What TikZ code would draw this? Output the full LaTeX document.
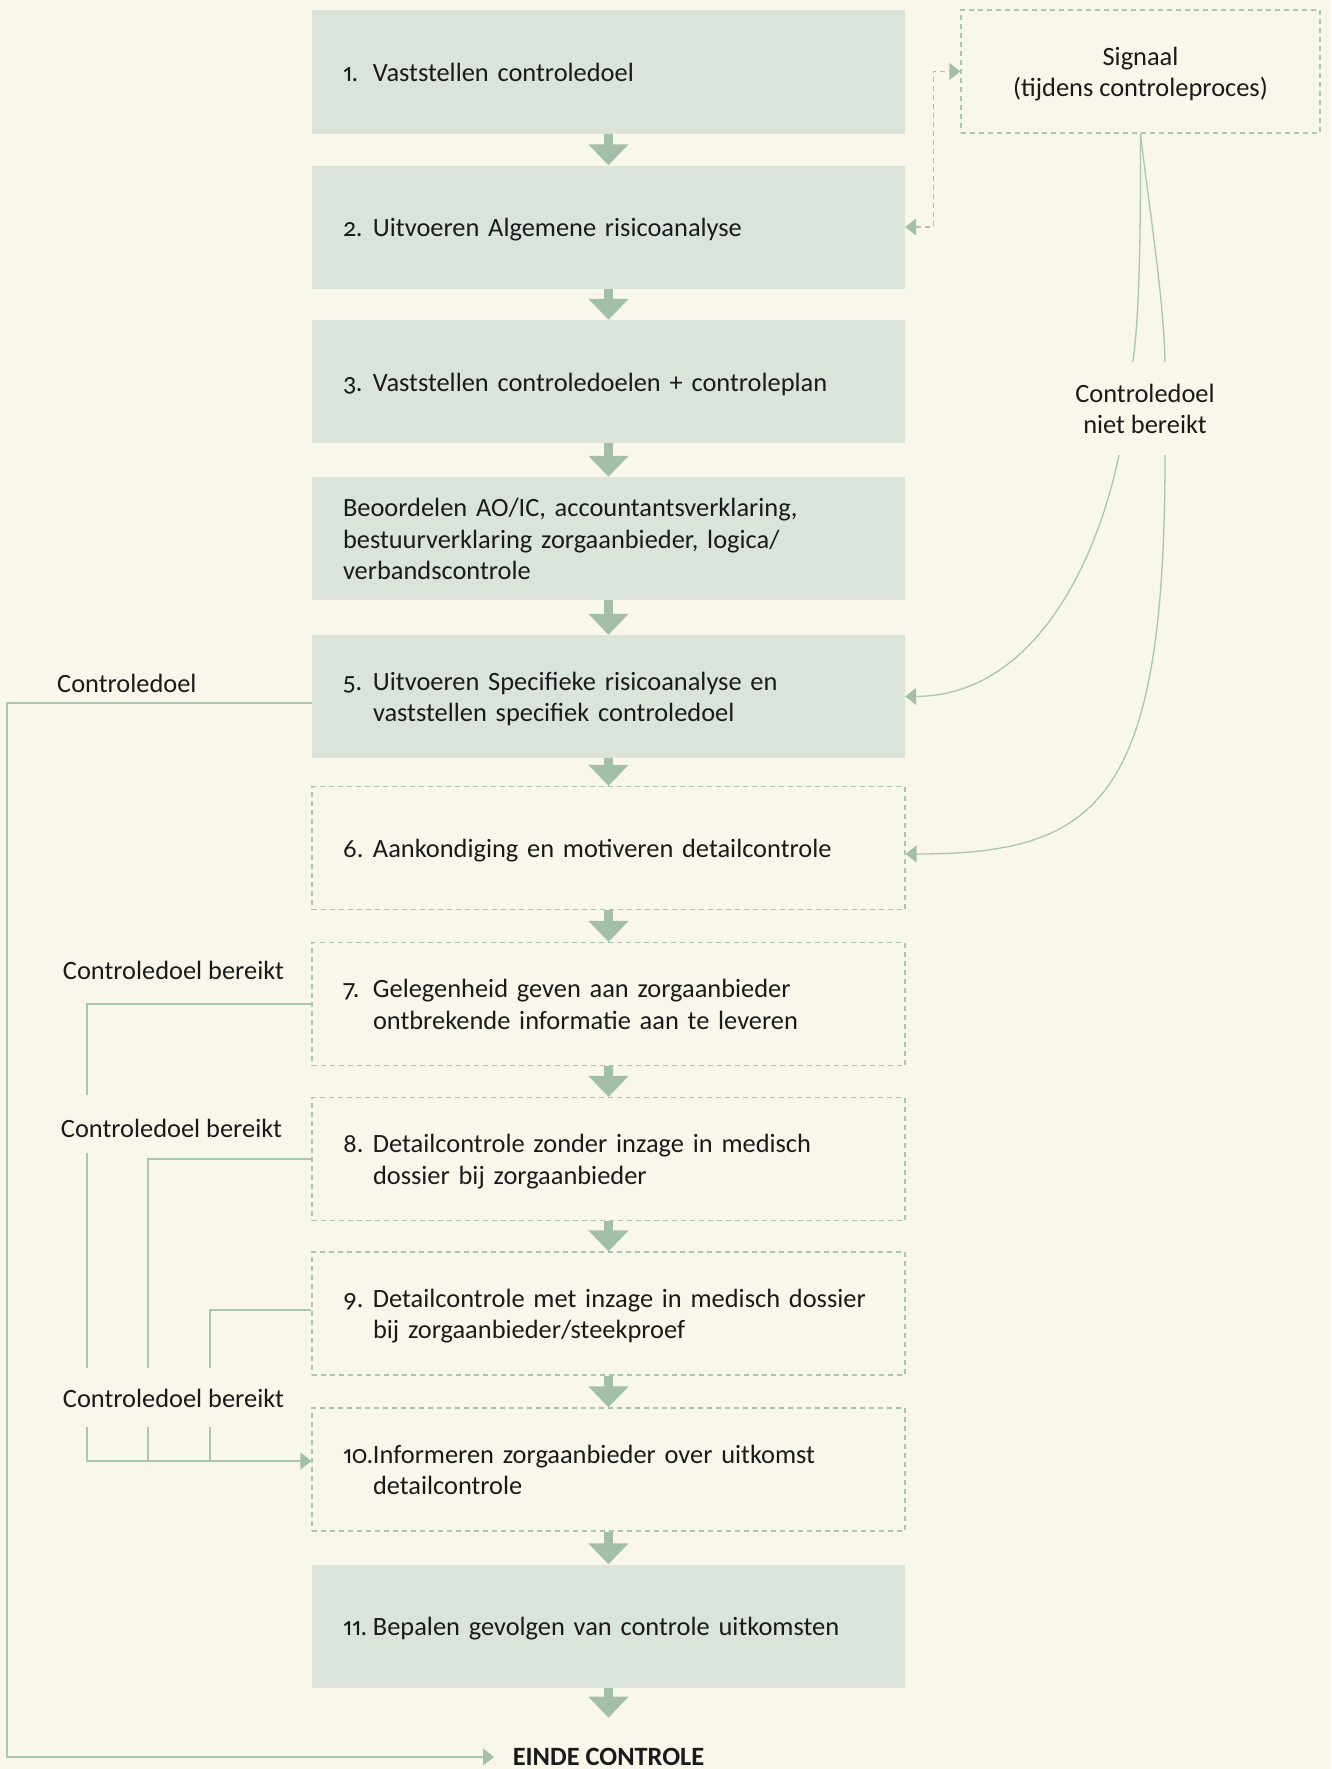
\documentclass[tikz,border=0pt]{standalone}
\usepackage{fontspec}
\setmainfont{Carlito}[Numbers={OldStyle,Proportional}]
\usetikzlibrary{arrows.meta}
\definecolor{bg}{HTML}{F9F7EC}
\definecolor{boxfill}{HTML}{DAE4DB}
\definecolor{arrowgreen}{HTML}{A3BFA9}
\definecolor{linegreen}{HTML}{A9C6AF}
\definecolor{ink}{HTML}{1A1A1A}
\newcommand{\nr}[1]{\makebox[30pt][l]{#1}}
\newcommand{\ind}{\hspace*{30pt}}
\newcommand{\mystrut}{\rule[-6pt]{0pt}{31pt}}
\newcommand{\tline}[1]{\mbox{\mystrut#1}}
\begin{document}
\begin{tikzpicture}[x=1pt,y=-1pt,
  every node/.style={font=\fontsize{26.4}{31.6}\selectfont, text=ink},
  solidbox/.style={rectangle, fill=boxfill, minimum width=593pt, minimum height=123pt,
     text width=531pt, inner xsep=31pt, inner ysep=0pt, align=left},
  dashbox/.style={solidbox, fill=none, draw=linegreen, line width=1.3pt, dash pattern=on 5pt off 4pt},
  sigbox/.style={rectangle, draw=linegreen, line width=1.3pt, dash pattern=on 5pt off 4pt,
     minimum width=359pt, minimum height=123pt, inner sep=0pt, align=center},
  flowarrow/.style={draw=arrowgreen, line width=8.7pt, -{Triangle[length=21pt,width=39pt,color=arrowgreen]}},
  conn/.style={draw=linegreen, line width=1.3pt},
  dconn/.style={conn, dash pattern=on 5pt off 4pt},
  endtip/.style={-{Triangle[length=11pt,width=17pt,color=arrowgreen]}},
  bothtips/.style={{Triangle[length=11pt,width=17pt,color=arrowgreen]}-{Triangle[length=11pt,width=17pt,color=arrowgreen]}},
  lbl/.style={inner sep=0pt, align=center}
]
\useasboundingbox (0,0) rectangle (1331,1769);
\fill[bg] (0,0) rectangle (1331,1769);

% main column
\node[solidbox] (b1) at (608.5,72) {\tline{\nr{1.}Vaststellen controledoel}};
\node[solidbox] (b2) at (608.5,227) {\tline{\nr{2.}Uitvoeren Algemene risicoanalyse}};
\node[solidbox] (b3) at (608.5,381.5) {\tline{\nr{3.}Vaststellen controledoelen + controleplan}};
\node[solidbox] (b4) at (608.5,538.5) {\tline{Beoordelen AO/IC, accountantsverklaring,}\\\tline{bestuurverklaring zorgaanbieder, logica/}\\\tline{verbandscontrole}};
\node[solidbox] (b5) at (608.5,696.5) {\tline{\nr{5.}Uitvoeren Specifieke risicoanalyse en}\\\tline{\ind vaststellen specifiek controledoel}};
\node[dashbox] (b6) at (608.5,848) {\tline{\nr{6.}Aankondiging en motiveren detailcontrole}};
\node[dashbox] (b7) at (608.5,1004) {\tline{\nr{7.}Gelegenheid geven aan zorgaanbieder}\\\tline{\ind ontbrekende informatie aan te leveren}};
\node[dashbox] (b8) at (608.5,1159) {\tline{\nr{8.}Detailcontrole zonder inzage in medisch}\\\tline{\ind dossier bij zorgaanbieder}};
\node[dashbox] (b9) at (608.5,1313.5) {\tline{\nr{9.}Detailcontrole met inzage in medisch dossier}\\\tline{\ind bij zorgaanbieder/steekproef}};
\node[dashbox] (b10) at (608.5,1469.5) {\tline{\nr{10.}Informeren zorgaanbieder over uitkomst}\\\tline{\ind detailcontrole}};
\node[solidbox] (b11) at (608.5,1626) {\tline{\nr{11.}Bepalen gevolgen van controle uitkomsten}};
\node[anchor=base, inner sep=0pt, font=\fontsize{26.4}{31.6}\selectfont\bfseries] (einde) at (608.5,1765) {EINDE CONTROLE};

% flow arrows
\foreach \a/\b in {b1/b2,b2/b3,b3/b4,b4/b5,b5/b6,b6/b7,b7/b8,b8/b9,b9/b10,b10/b11}
  \draw[flowarrow] (\a.south) -- (\b.north);
\draw[flowarrow] (b11.south) -- ++(0,30);

% signal
\node[sigbox] (sig) at (1140.5,71.5) {\tline{Signaal}\\\tline{(tijdens controleproces)}};
\draw[dconn, bothtips] (b2.east) -- ++(28,0) |- (sig.west);

\node[lbl] (nb) at (1145,409) {Controledoel\\niet bereikt};
\coordinate (nbUL) at (1133,362);
\coordinate (nbUR) at (1165,362);
\coordinate (nbLL) at (1119,455);
\coordinate (nbLR) at (1165,455);
\draw[conn] (sig.south) .. controls (1141,280) and (1137,330) .. (nbUL);
\draw[conn] (sig.south) .. controls (1148,200) and (1164,300) .. (nbUR);
\draw[conn, endtip] (nbLL) .. controls (1095,570) and (1030,696) .. (b5.east);
\draw[conn, endtip] (nbLR) .. controls (1165,800) and (1100,854) .. ([yshift=-6pt]b6.east);

% left: controledoel to einde
\node[anchor=base west, inner sep=0pt] (cd) at (57,692) {Controledoel};
\coordinate (farleft) at (7,703);
\coordinate (eindein) at (494,1757);
\draw[conn, endtip] ([yshift=-6.5pt]b5.west) -- (farleft) |- (eindein);

% left: controledoel bereikt tree
\node[lbl] (cb1) at (173.5,970) {Controledoel bereikt};
\node[lbl] (cb2) at (171.5,1128) {Controledoel bereikt};
\node[lbl] (cb3) at (173.5,1398) {Controledoel bereikt};
\coordinate (t1a) at (87,1095);
\coordinate (t1b) at (87,1153);
\coordinate (t1c) at (87,1368);
\coordinate (t2c) at (148,1368);
\coordinate (t3c) at (210,1368);
\coordinate (u1) at (87,1427);
\coordinate (u2) at (148,1427);
\coordinate (u3) at (210,1427);
\coordinate (v2) at (148,1461);
\coordinate (v3) at (210,1461);
\draw[conn] (b7.west) -| (t1a);
\draw[conn] (t1b) -- (t1c);
\draw[conn] (b8.west) -| (t2c);
\draw[conn] ([yshift=3.5pt]b9.west) -| (t3c);
\draw[conn, endtip] (u1) |- ([yshift=8.5pt]b10.west);
\draw[conn] (u2) -- (v2);
\draw[conn] (u3) -- (v3);
\end{tikzpicture}
\end{document}
